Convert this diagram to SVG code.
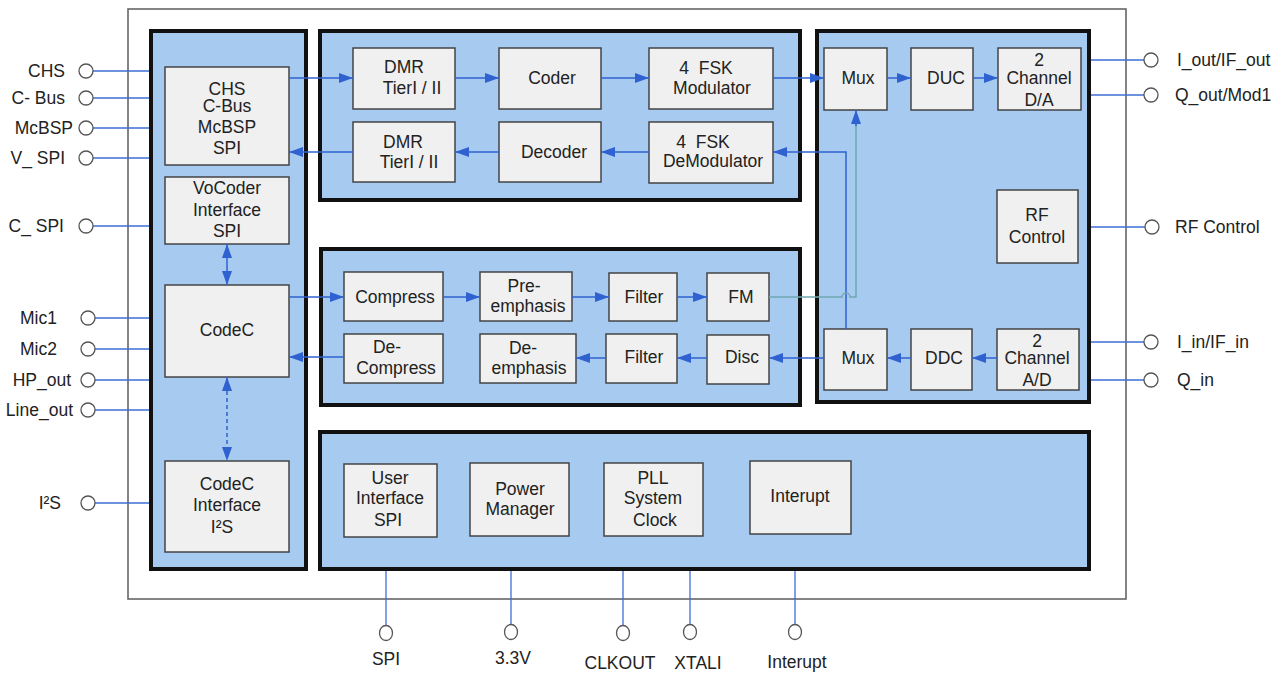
<svg xmlns="http://www.w3.org/2000/svg" width="1286" height="673" viewBox="0 0 1286 673">
<defs>
<marker id="ah" viewBox="0 0 14 10" refX="14" refY="5" markerWidth="14" markerHeight="10" orient="auto-start-reverse" markerUnits="userSpaceOnUse"><path d="M0,0 L14,5 L0,10 z" fill="#2f62d0"/></marker>
<style>
text{font-family:"Liberation Sans",Arial,sans-serif;font-size:17.5px;fill:#222}
.c{text-anchor:middle}
.r{text-anchor:end}
.blk{fill:#a7caf0;stroke:#111;stroke-width:4}
.box{fill:#f0f0f0;stroke:#444;stroke-width:1.5}
.pin{fill:#fff;stroke:#555;stroke-width:1.3}
.pl{stroke:#3d6fd6;stroke-width:1.3;fill:none}
.ar{stroke:#2f62d0;stroke-width:1.5;fill:none;marker-end:url(#ah)}
.gr{stroke:#6fa8b0;stroke-width:1.5;fill:none}
</style>
</defs>
<rect x="0" y="0" width="1286" height="673" fill="#fff"/>
<rect id="chip" x="128" y="9" width="998" height="590" fill="none" stroke="#666" stroke-width="1.6"/>

<g id="pinlines">
<path class="pl" d="M93,71H151M93,98H151M93,128H151M93,158H151M93,226H151M93,318H151M93,349H151M93,380H151M93,410H151M93,503H151"/>
<path class="pl" d="M1089,60H1144M1089,95H1144M1089,227H1145M1089,342H1144M1089,380H1144"/>
<path class="pl" d="M386,571V625M511,571V625M623,571V625M690,571V625M795,571V625"/>
</g>

<g id="block-left"><rect class="blk" x="151" y="31" width="155" height="538"/></g>
<g id="block-top"><rect class="blk" x="320" y="31" width="480" height="169"/></g>
<g id="block-mid"><rect class="blk" x="321" y="249" width="479" height="156"/></g>
<g id="block-right"><rect class="blk" x="817" y="31" width="272" height="371"/></g>
<g id="block-bottom"><rect class="blk" x="320" y="432" width="769" height="137"/></g>

<g id="n-chs"><rect class="box" x="165" y="67" width="124" height="98"/>
<text class="c" x="227" y="95">CHS</text><text class="c" x="227" y="112">C-Bus</text><text class="c" x="227" y="133">McBSP</text><text class="c" x="227" y="154">SPI</text></g>
<g id="n-vocoder"><rect class="box" x="165" y="177" width="124" height="67"/>
<text class="c" x="227" y="194">VoCoder</text><text class="c" x="227" y="216">Interface</text><text class="c" x="227" y="237">SPI</text></g>
<g id="n-codec"><rect class="box" x="165" y="285" width="124" height="92"/>
<text class="c" x="227" y="336">CodeC</text></g>
<g id="n-codeci2s"><rect class="box" x="165" y="461" width="124" height="91"/>
<text class="c" x="227" y="490">CodeC</text><text class="c" x="227" y="511">Interface</text><text class="c" x="222" y="533">I²S</text></g>

<g id="n-dmr1"><rect class="box" x="353" y="48" width="102" height="61"/>
<text class="c" x="404" y="73">DMR</text><text class="c" x="412" y="94">TierI / II</text></g>
<g id="n-coder"><rect class="box" x="499" y="48" width="102" height="61"/>
<text class="c" x="552" y="84">Coder</text></g>
<g id="n-fskmod"><rect class="box" x="649" y="48" width="124" height="61"/>
<text class="c" x="706" y="74">4&#160; FSK</text><text class="c" x="712" y="94">Modulator</text></g>
<g id="n-dmr2"><rect class="box" x="353" y="122" width="102" height="60"/>
<text class="c" x="403" y="148">DMR</text><text class="c" x="409" y="168">TierI / II</text></g>
<g id="n-decoder"><rect class="box" x="499" y="122" width="102" height="60"/>
<text class="c" x="554" y="158">Decoder</text></g>
<g id="n-fskdemod"><rect class="box" x="649" y="122" width="124" height="61"/>
<text class="c" x="703" y="148">4&#160; FSK</text><text class="c" x="713" y="167">DeModulator</text></g>

<g id="n-compress"><rect class="box" x="344" y="272" width="99" height="49"/>
<text class="c" x="395" y="303">Compress</text></g>
<g id="n-preemph"><rect class="box" x="480" y="272" width="92" height="49"/>
<text class="c" x="524" y="292">Pre-</text><text class="c" x="528" y="312">emphasis</text></g>
<g id="n-filter1"><rect class="box" x="609" y="273" width="68" height="48"/>
<text class="c" x="644" y="303">Filter</text></g>
<g id="n-fm"><rect class="box" x="707" y="273" width="62" height="48"/>
<text class="c" x="741" y="303">FM</text></g>
<g id="n-decompress"><rect class="box" x="344" y="334" width="99" height="49"/>
<text class="c" x="387" y="353">De-</text><text class="c" x="396" y="374">Compress</text></g>
<g id="n-deemph"><rect class="box" x="480" y="334" width="96" height="49"/>
<text class="c" x="523" y="354">De-</text><text class="c" x="529" y="374">emphasis</text></g>
<g id="n-filter2"><rect class="box" x="606" y="334" width="71" height="49"/>
<text class="c" x="644" y="363">Filter</text></g>
<g id="n-disc"><rect class="box" x="707" y="335" width="62" height="49"/>
<text class="c" x="742" y="363">Disc</text></g>

<g id="n-mux1"><rect class="box" x="824" y="48" width="63" height="62"/>
<text class="c" x="858" y="84">Mux</text></g>
<g id="n-duc"><rect class="box" x="911" y="48" width="62" height="62"/>
<text class="c" x="946" y="84">DUC</text></g>
<g id="n-da"><rect class="box" x="998" y="48" width="83" height="62"/>
<text class="c" x="1039" y="66">2</text><text class="c" x="1039" y="84">Channel</text><text class="c" x="1039" y="106">D/A</text></g>
<g id="n-rf"><rect class="box" x="997" y="190" width="81" height="73"/>
<text class="c" x="1037" y="221">RF</text><text class="c" x="1037" y="243">Control</text></g>
<g id="n-mux2"><rect class="box" x="824" y="329" width="63" height="61"/>
<text class="c" x="858" y="364">Mux</text></g>
<g id="n-ddc"><rect class="box" x="911" y="329" width="61" height="61"/>
<text class="c" x="944" y="364">DDC</text></g>
<g id="n-ad"><rect class="box" x="997" y="329" width="82" height="61"/>
<text class="c" x="1037" y="347">2</text><text class="c" x="1037" y="364">Channel</text><text class="c" x="1037" y="386">A/D</text></g>

<g id="n-ui"><rect class="box" x="344" y="464" width="93" height="73"/>
<text class="c" x="390" y="484">User</text><text class="c" x="390" y="504">Interface</text><text class="c" x="388" y="526">SPI</text></g>
<g id="n-power"><rect class="box" x="470" y="463" width="99" height="73"/>
<text class="c" x="520" y="495">Power</text><text class="c" x="520" y="515">Manager</text></g>
<g id="n-pll"><rect class="box" x="604" y="463" width="99" height="73"/>
<text class="c" x="653" y="484">PLL</text><text class="c" x="653" y="504">System</text><text class="c" x="655" y="526">Clock</text></g>
<g id="n-int"><rect class="box" x="750" y="461" width="101" height="73"/>
<text class="c" x="800" y="502">Interupt</text></g>

<g id="connectors">
<path class="ar" d="M289,78H353"/>
<path class="ar" d="M455,78H499"/>
<path class="ar" d="M601,78H649"/>
<path class="ar" d="M773,78H824"/>
<path class="ar" d="M887,78H911"/>
<path class="ar" d="M973,78H998"/>
<path class="ar" d="M353,152H289"/>
<path class="ar" d="M499,152H455"/>
<path class="ar" d="M649,152H601"/>
<path class="ar" d="M846,329V152H773"/>
<path class="ar" d="M289,297H344"/>
<path class="ar" d="M443,297H480"/>
<path class="ar" d="M572,297H609"/>
<path class="ar" d="M677,297H707"/>
<path class="ar" d="M824,358H769"/>
<path class="ar" d="M707,358H677"/>
<path class="ar" d="M606,358H576"/>
<path class="ar" d="M344,357H289" stroke="#7d95dd"/>
<path class="ar" d="M997,358H972"/>
<path class="ar" d="M911,358H887"/>
<path class="gr" d="M769,297H842A4,4 0 0 1 850,297H856V124"/>
<path class="ar" d="M856,126V110" stroke="#6fa8b0"/>
<path class="ar" d="M227,244V285" style="marker-start:url(#ah)"/>
<path class="ar" d="M227,377V461" stroke-dasharray="4,3" style="marker-start:url(#ah)"/>
</g>

<g id="pins">
<circle class="pin" cx="86" cy="71" r="7"/><circle class="pin" cx="86" cy="98" r="7"/><circle class="pin" cx="86" cy="128" r="7"/><circle class="pin" cx="86" cy="158" r="7"/><circle class="pin" cx="86" cy="226" r="7"/><circle class="pin" cx="88" cy="318" r="7"/><circle class="pin" cx="88" cy="349" r="7"/><circle class="pin" cx="88" cy="380" r="7"/><circle class="pin" cx="88" cy="410" r="7"/><circle class="pin" cx="88" cy="503" r="7"/>
<circle class="pin" cx="1151" cy="60" r="7"/><circle class="pin" cx="1151" cy="95" r="7"/><circle class="pin" cx="1152" cy="227" r="7"/><circle class="pin" cx="1151" cy="342" r="7"/><circle class="pin" cx="1151" cy="380" r="7"/>
<ellipse class="pin" cx="386" cy="633" rx="6.5" ry="7.5"/><ellipse class="pin" cx="511" cy="632" rx="6.5" ry="7.5"/><ellipse class="pin" cx="623" cy="633" rx="6.5" ry="7.5"/><ellipse class="pin" cx="690" cy="632" rx="6.5" ry="7.5"/><ellipse class="pin" cx="795" cy="632" rx="6.5" ry="7.5"/>
<text class="r" x="65" y="77">CHS</text>
<text class="r" x="65" y="104">C- Bus</text>
<text class="r" x="73" y="134">McBSP</text>
<text class="r" x="65" y="164">V_ SPI</text>
<text class="r" x="64" y="232">C_ SPI</text>
<text class="r" x="57" y="324">Mic1</text>
<text class="r" x="57" y="355">Mic2</text>
<text class="r" x="71" y="386">HP_out</text>
<text class="r" x="73" y="416">Line_out</text>
<text class="r" x="61" y="509">I²S</text>
<text x="1177" y="66">I_out/IF_out</text>
<text x="1175" y="101">Q_out/Mod1</text>
<text x="1175" y="233">RF Control</text>
<text x="1177" y="348">I_in/IF_in</text>
<text x="1177" y="386">Q_in</text>
<text class="c" x="386" y="665">SPI</text>
<text class="c" x="513" y="664">3.3V</text>
<text class="c" x="620" y="669">CLKOUT</text>
<text class="c" x="698" y="669">XTALI</text>
<text class="c" x="797" y="668">Interupt</text>
</g>
</svg>
